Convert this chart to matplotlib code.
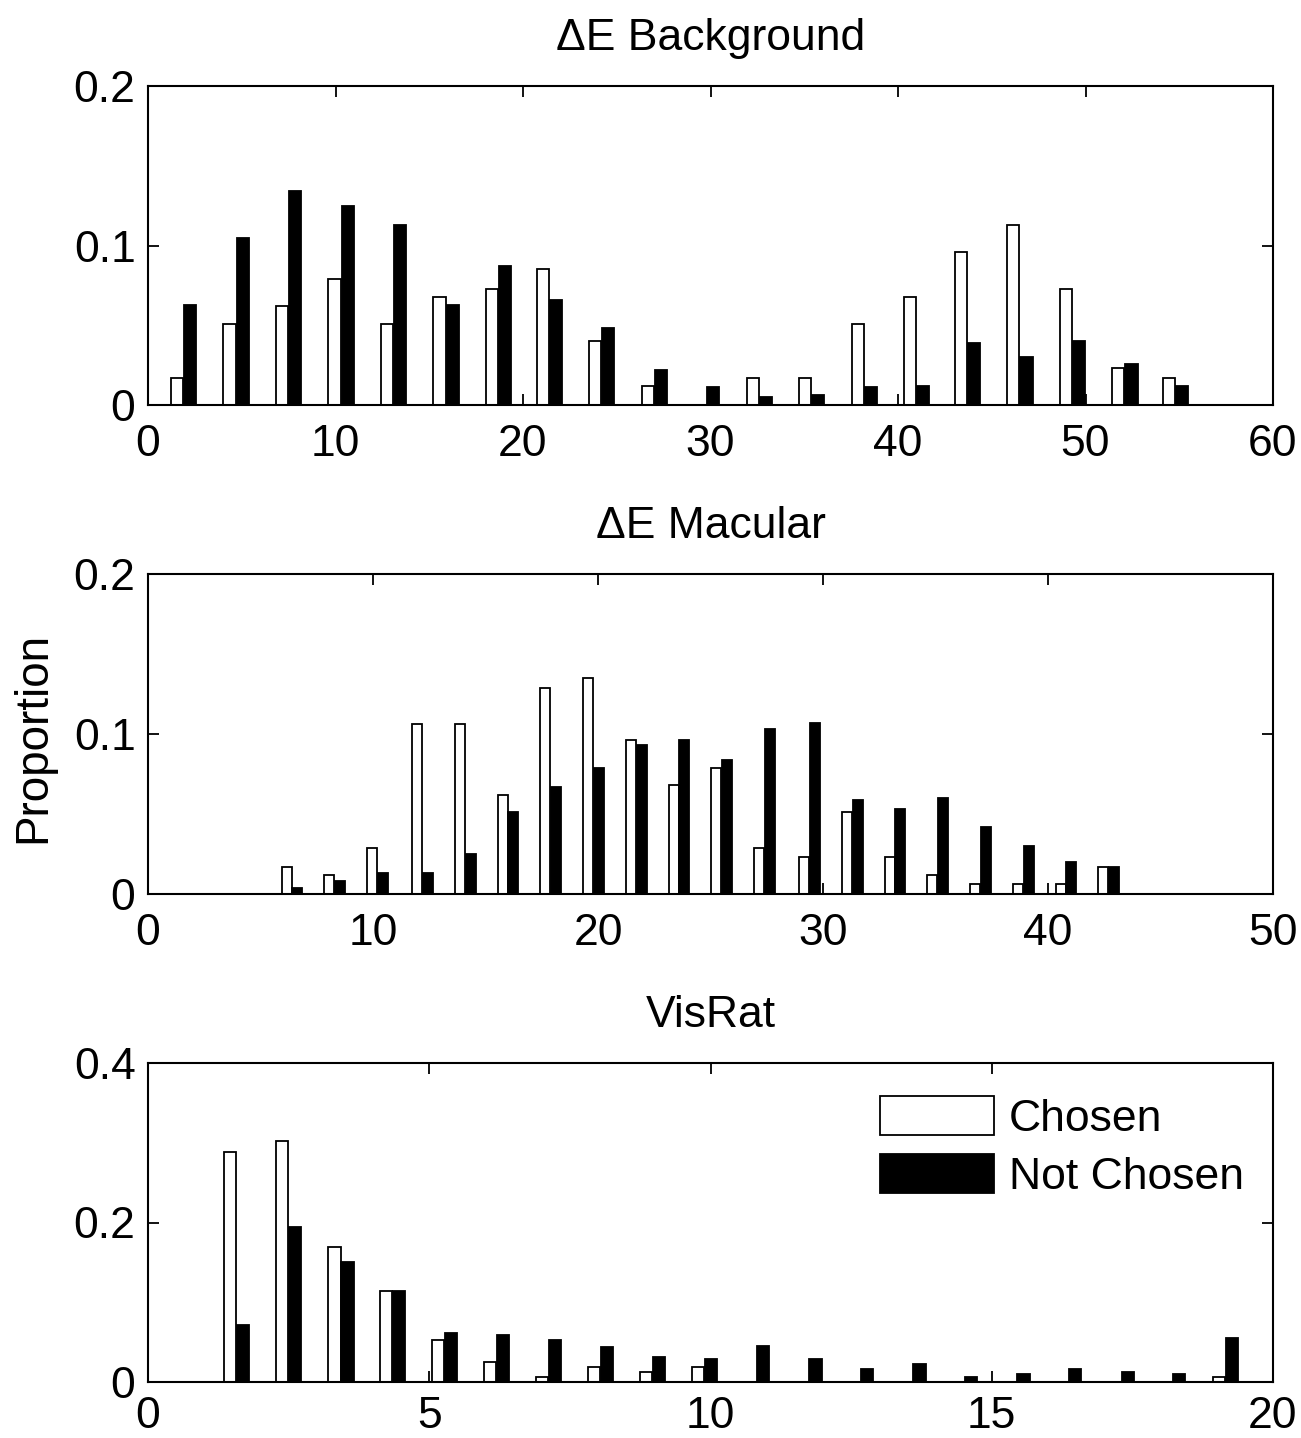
import numpy as np
import matplotlib
matplotlib.use('Agg')
import matplotlib.pyplot as plt

plt.rcParams['font.family'] = ['Liberation Sans', 'DejaVu Sans']

# ΔE Background
bg_centers = [1.9, 4.7, 7.5, 10.3, 13.1, 15.9, 18.7, 21.4, 24.2, 27.0,
              29.8, 32.6, 35.4, 38.2, 41.0, 43.7, 46.5, 49.3, 52.1, 54.8]
bg_chosen = [0.017, 0.051, 0.062, 0.079, 0.051, 0.068, 0.073, 0.085, 0.040, 0.012,
             0.0, 0.017, 0.017, 0.051, 0.068, 0.096, 0.113, 0.073, 0.023, 0.017]
bg_not = [0.063, 0.105, 0.134, 0.125, 0.113, 0.063, 0.087, 0.066, 0.048, 0.022,
          0.011, 0.005, 0.006, 0.011, 0.012, 0.039, 0.030, 0.040, 0.026, 0.012]

# ΔE Macular
mac_centers = [6.4, 8.3, 10.2, 12.2, 14.1, 16.0, 17.9, 19.8, 21.7, 23.6,
               25.5, 27.4, 29.4, 31.3, 33.2, 35.1, 37.0, 38.9, 40.8, 42.7]
mac_chosen = [0.017, 0.012, 0.029, 0.106, 0.106, 0.062, 0.129, 0.135, 0.096, 0.068,
              0.079, 0.029, 0.023, 0.051, 0.023, 0.012, 0.006, 0.006, 0.006, 0.017]
mac_not = [0.0035, 0.008, 0.013, 0.013, 0.025, 0.051, 0.067, 0.079, 0.093, 0.096,
           0.084, 0.103, 0.107, 0.059, 0.053, 0.060, 0.042, 0.030, 0.020, 0.017]

# VisRat
vr_centers = [1.58, 2.50, 3.43, 4.35, 5.27, 6.20, 7.12, 8.05, 8.97, 9.90,
              10.82, 11.75, 12.67, 13.60, 14.52, 15.45, 16.37, 17.30, 18.22, 19.15]
vr_chosen = [0.289, 0.302, 0.169, 0.114, 0.053, 0.025, 0.006, 0.019, 0.012, 0.019,
             0.0, 0.0, 0.0, 0.0, 0.0, 0.0, 0.0, 0.0, 0.0, 0.006]
vr_not = [0.071, 0.194, 0.151, 0.114, 0.062, 0.059, 0.053, 0.044, 0.031, 0.029,
          0.045, 0.029, 0.016, 0.023, 0.006, 0.010, 0.016, 0.013, 0.010, 0.055]

titles = ['\u0394E Background', '\u0394E Macular', 'VisRat']
xlims = [60, 50, 20]
xticks = [np.arange(0, 61, 10), np.arange(0, 51, 10), np.arange(0, 21, 5)]
ylims = [0.2, 0.2, 0.4]
yticks = [[0, 0.1, 0.2], [0, 0.1, 0.2], [0, 0.2, 0.4]]
ylabels = [['0', '0.1', '0.2'], ['0', '0.1', '0.2'], ['0', '0.2', '0.4']]

FS = 32
fig = plt.figure(figsize=(13.01, 14.38), dpi=100)
W, H = 1301, 1438
boxes = [(86, 405), (574, 894), (1063, 1382)]
xpads = [14, 14, 10]

data = [(bg_centers, bg_chosen, bg_not),
        (mac_centers, mac_chosen, mac_not),
        (vr_centers, vr_chosen, vr_not)]

axes = []
for i, (top, bot) in enumerate(boxes):
    ax = fig.add_axes([148 / W, 1 - bot / H, 1125 / W, (bot - top) / H])
    centers, ch, nc = data[i]
    c = np.array(centers)
    step = np.diff(c).mean()
    bw = 0.235 * step
    off = 0.125 * step
    ax.bar(c - off, ch, width=bw, color='white', edgecolor='black', linewidth=1.3,
           label='Chosen')
    ax.bar(c + off, nc, width=bw, color='black', edgecolor='black', linewidth=1.3,
           label='Not Chosen')
    ax.set_xlim(0, xlims[i])
    ax.set_ylim(0, ylims[i])
    ax.set_xticks(xticks[i])
    ax.set_xticklabels([str(t) for t in xticks[i]])
    ax.set_yticks(yticks[i])
    ax.set_yticklabels(ylabels[i])
    ax.set_axisbelow(True)
    ax.tick_params(direction='in', length=8, width=1.3, labelsize=FS,
                   top=True, right=True)
    ax.tick_params(axis='x', pad=xpads[i])
    ax.tick_params(axis='y', pad=9)
    for s in ax.spines.values():
        s.set_linewidth(1.5)
    ax.set_title(titles[i], fontsize=FS, pad=26)
    axes.append(ax)

axes[2].legend(loc='upper left', bbox_to_anchor=(0.651, 0.897), frameon=False,
               fontsize=FS, handlelength=2.55, handleheight=0.97,
               labelspacing=0.33, handletextpad=0.34, borderpad=0,
               borderaxespad=0)

fig.text(33 / W, 1 - 737 / H, 'Proportion', rotation=90, fontsize=FS + 1,
         ha='center', va='center')

fig.savefig('out.png', dpi=100)
